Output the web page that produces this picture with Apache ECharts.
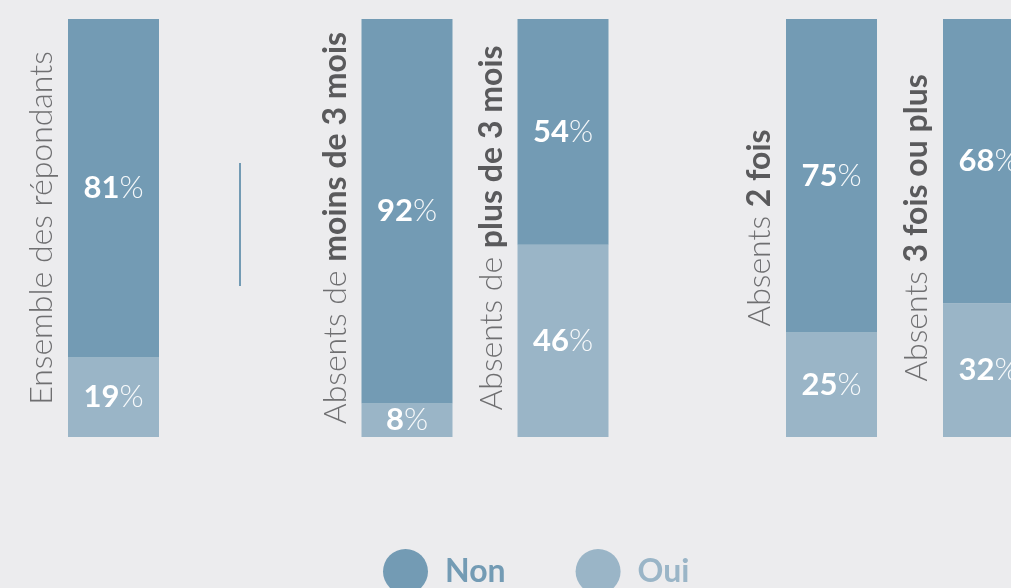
<!DOCTYPE html>
<html>
<head>
<meta charset="utf-8">
<script src="https://cdn.jsdelivr.net/npm/echarts@6/dist/echarts.min.js"></script>
<style>
  html, body { margin: 0; padding: 0; background: #ececee; }
  #chart { width: 1011px; height: 588px; }
</style>
</head>
<body>
<div id="chart"></div>
<script>
// Réponses par profil d'absence
const categoryLight = ['Ensemble des répondants', 'Absents de ', 'Absents de ', 'Absents ', 'Absents '];
const categoryBold = ['', 'moins de 3 mois', 'plus de 3 mois', '2 fois', '3 fois ou plus'];
const nonValues = [81, 92, 54, 75, 68];
const ouiValues = [19, 8, 46, 25, 32];
// panel index of each bar: overall, by duration, by frequency
const panelOf = [0, 1, 1, 2, 2];

const COLOR_NON = '#739bb4';
const COLOR_OUI = '#9ab5c7';
const FONT = 'Lato';

// the last panel runs past the right edge of the page
const panels = [
  { left: 68, width: 91 },
  { left: 329, width: 312 },
  { left: 753, width: 314 }
];

const grids = [], xAxes = [], yAxes = [], series = [];

const valueLabel = {
  show: true,
  position: 'inside',
  formatter: p => `{v|${p.value}}{p|%}`,
  rich: {
    v: { fontFamily: FONT, fontWeight: 'bold', fontSize: 31, color: '#ffffff' },
    p: { fontFamily: FONT, fontWeight: 300, fontSize: 31, color: 'rgba(255,255,255,0.92)' }
  }
};

panels.forEach((pan, g) => {
  const idx = panelOf.map((p, i) => p === g ? i : -1).filter(i => i >= 0);
  const cats = idx.map(i => categoryLight[i] + categoryBold[i]);
  grids.push({ left: pan.left, width: pan.width, top: 19, height: 418, outerBoundsMode: 'none' });
  xAxes.push({ type: 'category', gridIndex: g, data: cats, show: false });
  yAxes.push({ type: 'value', gridIndex: g, min: 0, max: 100, show: false });

  series.push({
    name: 'Oui', type: 'bar', stack: 'rep' + g,
    xAxisIndex: g, yAxisIndex: g, barWidth: 91, barGap: '-100%',
    data: idx.map(i => ouiValues[i]),
    itemStyle: { color: COLOR_OUI },
    label: valueLabel, silent: true
  });
  series.push({
    name: 'Non', type: 'bar', stack: 'rep' + g,
    xAxisIndex: g, yAxisIndex: g, barWidth: 91, barGap: '-100%',
    data: idx.map(i => nonValues[i]),
    itemStyle: { color: COLOR_NON },
    label: valueLabel, silent: true
  });
  // transparent full-height bar carrying the rotated category title
  series.push({
    name: 'titre', type: 'bar',
    xAxisIndex: g, yAxisIndex: g, barWidth: 91, barGap: '-100%', z: 1,
    data: idx.map(i => nonValues[i] + ouiValues[i]),
    itemStyle: { color: 'rgba(0,0,0,0)' },
    silent: true,
    label: {
      show: true,
      position: 'left',
      distance: 26,
      rotate: 90,
      align: 'center',
      verticalAlign: 'middle',
      formatter: p => {
        const i = idx[p.dataIndex];
        return `{l|${categoryLight[i]}}` + (categoryBold[i] ? `{b|${categoryBold[i]}}` : '');
      },
      rich: {
        l: { fontFamily: FONT, fontWeight: 300, fontSize: 32, color: '#6f6f71' },
        b: { fontFamily: FONT, fontWeight: 'bold', fontSize: 32, color: '#5a5a5c' }
      }
    }
  });
});

const chart = echarts.init(document.getElementById('chart'), null, { renderer: 'canvas' });
chart.setOption({
  backgroundColor: '#ececee',
  animation: false,
  grid: grids,
  xAxis: xAxes,
  yAxis: yAxes,
  legend: {
    left: 383,
    top: 549,
    padding: 0,
    icon: 'circle',
    itemWidth: 45,
    itemHeight: 45,
    itemGap: 70,
    selectedMode: false,
    textStyle: {
      fontFamily: FONT, fontWeight: 'bold', fontSize: 32,
      padding: [0, 0, 0, 12]
    },
    data: [
      { name: 'Non', itemStyle: { color: COLOR_NON }, textStyle: { color: COLOR_NON } },
      { name: 'Oui', itemStyle: { color: COLOR_OUI }, textStyle: { color: COLOR_OUI } }
    ]
  },
  graphic: [{
    type: 'line',
    shape: { x1: 240, y1: 163, x2: 240, y2: 286 },
    style: { stroke: COLOR_NON, lineWidth: 2 },
    silent: true
  }],
  series: series
});
</script>
</body>
</html>
